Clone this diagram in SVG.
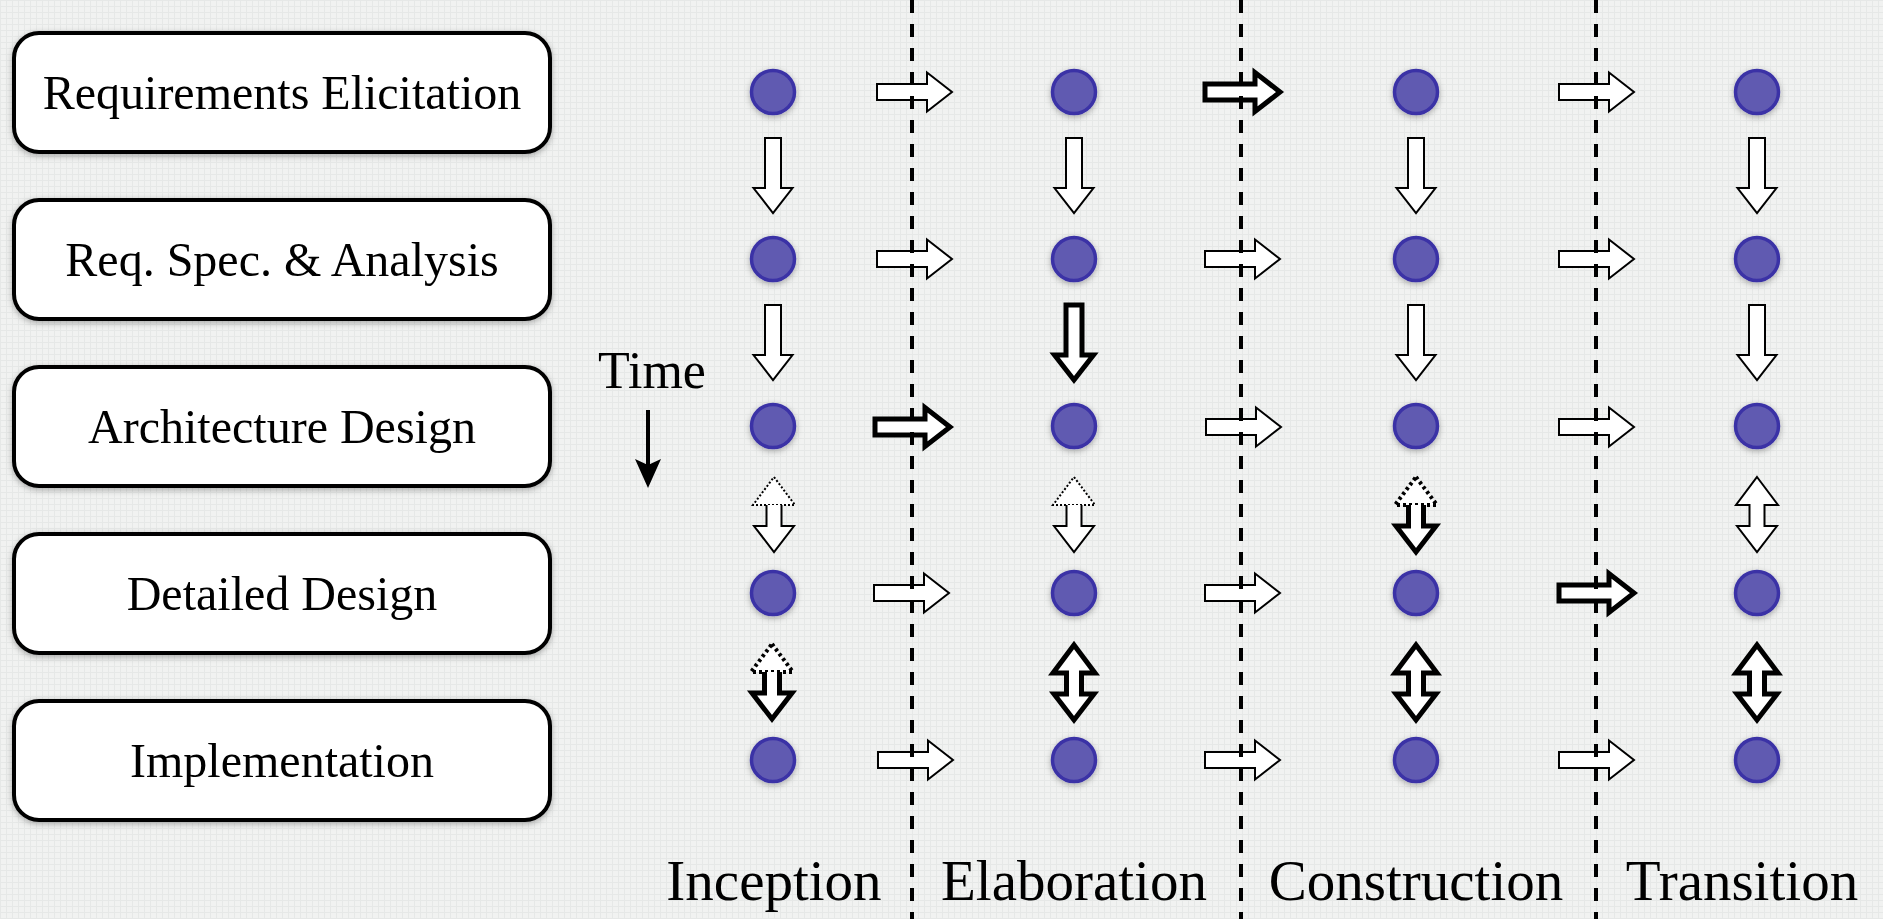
<svg xmlns="http://www.w3.org/2000/svg" xmlns:xlink="http://www.w3.org/1999/xlink" width="1883" height="919" viewBox="0 0 1883 919">
<style>
.bg{fill:#f0f1f0}
.box{fill:#fff;stroke:#000;stroke-width:4}
.lbl{font-family:"Liberation Serif","Times New Roman",serif;font-size:48px;fill:#000;text-anchor:middle}
.phase{font-family:"Liberation Serif","Times New Roman",serif;font-size:57px;fill:#000;text-anchor:middle}
.dot{fill:#615ab1;stroke:#3a32a6;stroke-width:3.5}
.thin{fill:#fff;stroke:#000;stroke-width:2}
.thick{fill:#fff;stroke:#000;stroke-width:5}
.dthin{fill:#fff;stroke:#000;stroke-width:2;stroke-dasharray:2 2}
.dthick{fill:#fff;stroke:#000;stroke-width:4;stroke-dasharray:3 3}
.sep{stroke:#000;stroke-width:4;stroke-dasharray:13 11;fill:none}
</style>
<defs>
<pattern id="grid" width="6" height="6" patternUnits="userSpaceOnUse">
<rect width="6" height="6" fill="#f1f2f1"/>
<path d="M0,0.5 H6 M0.5,0 V6" stroke="#e6e8e7" stroke-width="1"/>
</pattern>
<filter id="sh" x="-20%" y="-20%" width="140%" height="150%">
<feDropShadow dx="0" dy="2" stdDeviation="3" flood-color="#000" flood-opacity="0.3"/>
</filter>
<path id="ar" d="M0,-8 H50 V-19.5 L75,0 L50,19.5 V8 H0 Z"/>
<path id="ad" d="M-8,0 V50 H-19.5 L0,75 L19.5,50 H8 V0 Z"/>
<path id="dd" d="M0,0 L21,28 H7.5 V49 H20 L0,75 L-20,49 H-7.5 V28 H-21 Z"/>
<path id="dt" d="M0,0 L21,28 H-21 Z"/>
<path id="dl" d="M-7.5,28 V49 H-20 L0,75 L20,49 H7.5 V28"/>
</defs>
<rect class="bg" width="1883" height="919"/>
<rect width="1883" height="919" fill="url(#grid)"/>

<g id="stage-requirements-elicitation" filter="url(#sh)">
<rect class="box" x="14" y="33" width="536" height="119" rx="25"/>
<text class="lbl" x="282" y="109">Requirements Elicitation</text>
</g>
<g id="stage-req-spec" filter="url(#sh)">
<rect class="box" x="14" y="200" width="536" height="119" rx="25"/>
<text class="lbl" x="282" y="276">Req. Spec. &amp; Analysis</text>
</g>
<g id="stage-architecture" filter="url(#sh)">
<rect class="box" x="14" y="367" width="536" height="119" rx="25"/>
<text class="lbl" x="282" y="443">Architecture Design</text>
</g>
<g id="stage-detailed" filter="url(#sh)">
<rect class="box" x="14" y="534" width="536" height="119" rx="25"/>
<text class="lbl" x="282" y="610">Detailed Design</text>
</g>
<g id="stage-implementation" filter="url(#sh)">
<rect class="box" x="14" y="701" width="536" height="119" rx="25"/>
<text class="lbl" x="282" y="777">Implementation</text>
</g>

<g id="time">
<text x="652" y="388" font-family="Liberation Serif, Times New Roman, serif" font-size="52" text-anchor="middle">Time</text>
<line x1="648" y1="410" x2="648" y2="470" stroke="#000" stroke-width="4"/>
<path d="M635,459 L648,488 L661,459 L648,465 Z" fill="#000"/>
</g>

<g id="dots" filter="url(#sh)">
<g id="dot-1-1"><circle class="dot" cx="773" cy="92" r="21.5"/></g>
<g id="dot-1-2"><circle class="dot" cx="1074" cy="92" r="21.5"/></g>
<g id="dot-1-3"><circle class="dot" cx="1416" cy="92" r="21.5"/></g>
<g id="dot-1-4"><circle class="dot" cx="1757" cy="92" r="21.5"/></g>
<g id="dot-2-1"><circle class="dot" cx="773" cy="259" r="21.5"/></g>
<g id="dot-2-2"><circle class="dot" cx="1074" cy="259" r="21.5"/></g>
<g id="dot-2-3"><circle class="dot" cx="1416" cy="259" r="21.5"/></g>
<g id="dot-2-4"><circle class="dot" cx="1757" cy="259" r="21.5"/></g>
<g id="dot-3-1"><circle class="dot" cx="773" cy="426" r="21.5"/></g>
<g id="dot-3-2"><circle class="dot" cx="1074" cy="426" r="21.5"/></g>
<g id="dot-3-3"><circle class="dot" cx="1416" cy="426" r="21.5"/></g>
<g id="dot-3-4"><circle class="dot" cx="1757" cy="426" r="21.5"/></g>
<g id="dot-4-1"><circle class="dot" cx="773" cy="593" r="21.5"/></g>
<g id="dot-4-2"><circle class="dot" cx="1074" cy="593" r="21.5"/></g>
<g id="dot-4-3"><circle class="dot" cx="1416" cy="593" r="21.5"/></g>
<g id="dot-4-4"><circle class="dot" cx="1757" cy="593" r="21.5"/></g>
<g id="dot-5-1"><circle class="dot" cx="773" cy="760" r="21.5"/></g>
<g id="dot-5-2"><circle class="dot" cx="1074" cy="760" r="21.5"/></g>
<g id="dot-5-3"><circle class="dot" cx="1416" cy="760" r="21.5"/></g>
<g id="dot-5-4"><circle class="dot" cx="1757" cy="760" r="21.5"/></g>
</g>

<g id="connectors">
<use href="#ar" x="877" y="92" class="thin"/>
<use href="#ar" x="1205" y="92" class="thick"/>
<use href="#ar" x="1559" y="92" class="thin"/>
<use href="#ar" x="877" y="259" class="thin"/>
<use href="#ar" x="1205" y="259" class="thin"/>
<use href="#ar" x="1559" y="259" class="thin"/>
<use href="#ar" x="875" y="427" class="thick"/>
<use href="#ar" x="1206" y="427" class="thin"/>
<use href="#ar" x="1559" y="427" class="thin"/>
<use href="#ar" x="874" y="593" class="thin"/>
<use href="#ar" x="1205" y="593" class="thin"/>
<use href="#ar" x="1559" y="593" class="thick"/>
<use href="#ar" x="878" y="760" class="thin"/>
<use href="#ar" x="1205" y="760" class="thin"/>
<use href="#ar" x="1559" y="760" class="thin"/>
<use href="#ad" x="773" y="138" class="thin"/>
<use href="#ad" x="1074" y="138" class="thin"/>
<use href="#ad" x="1416" y="138" class="thin"/>
<use href="#ad" x="1757" y="138" class="thin"/>
<use href="#ad" x="773" y="305" class="thin"/>
<use href="#ad" x="1074" y="305" class="thick"/>
<use href="#ad" x="1416" y="305" class="thin"/>
<use href="#ad" x="1757" y="305" class="thin"/>
<use href="#dt" x="774" y="477" class="dthin"/>
<use href="#dl" x="774" y="477" class="thin"/>
<use href="#dt" x="1074" y="477" class="dthin"/>
<use href="#dl" x="1074" y="477" class="thin"/>
<use href="#dt" x="1416" y="477" class="dthick"/>
<use href="#dl" x="1416" y="477" class="thick"/>
<use href="#dd" x="1757" y="477" class="thin"/>
<use href="#dt" x="772" y="644" class="dthick"/>
<use href="#dl" x="772" y="644" class="thick"/>
<use href="#dd" x="1074" y="645" class="thick"/>
<use href="#dd" x="1416" y="645" class="thick"/>
<use href="#dd" x="1757" y="645" class="thick"/>
</g>

<g id="separators">
<line class="sep" x1="912" y1="0" x2="912" y2="919"/>
<line class="sep" x1="1241" y1="0" x2="1241" y2="919"/>
<line class="sep" x1="1596" y1="0" x2="1596" y2="919"/>
</g>

<g id="phases">
<text class="phase" x="774" y="900">Inception</text>
<text class="phase" x="1074" y="900">Elaboration</text>
<text class="phase" x="1416" y="900">Construction</text>
<text class="phase" x="1742" y="900">Transition</text>
</g>
</svg>
